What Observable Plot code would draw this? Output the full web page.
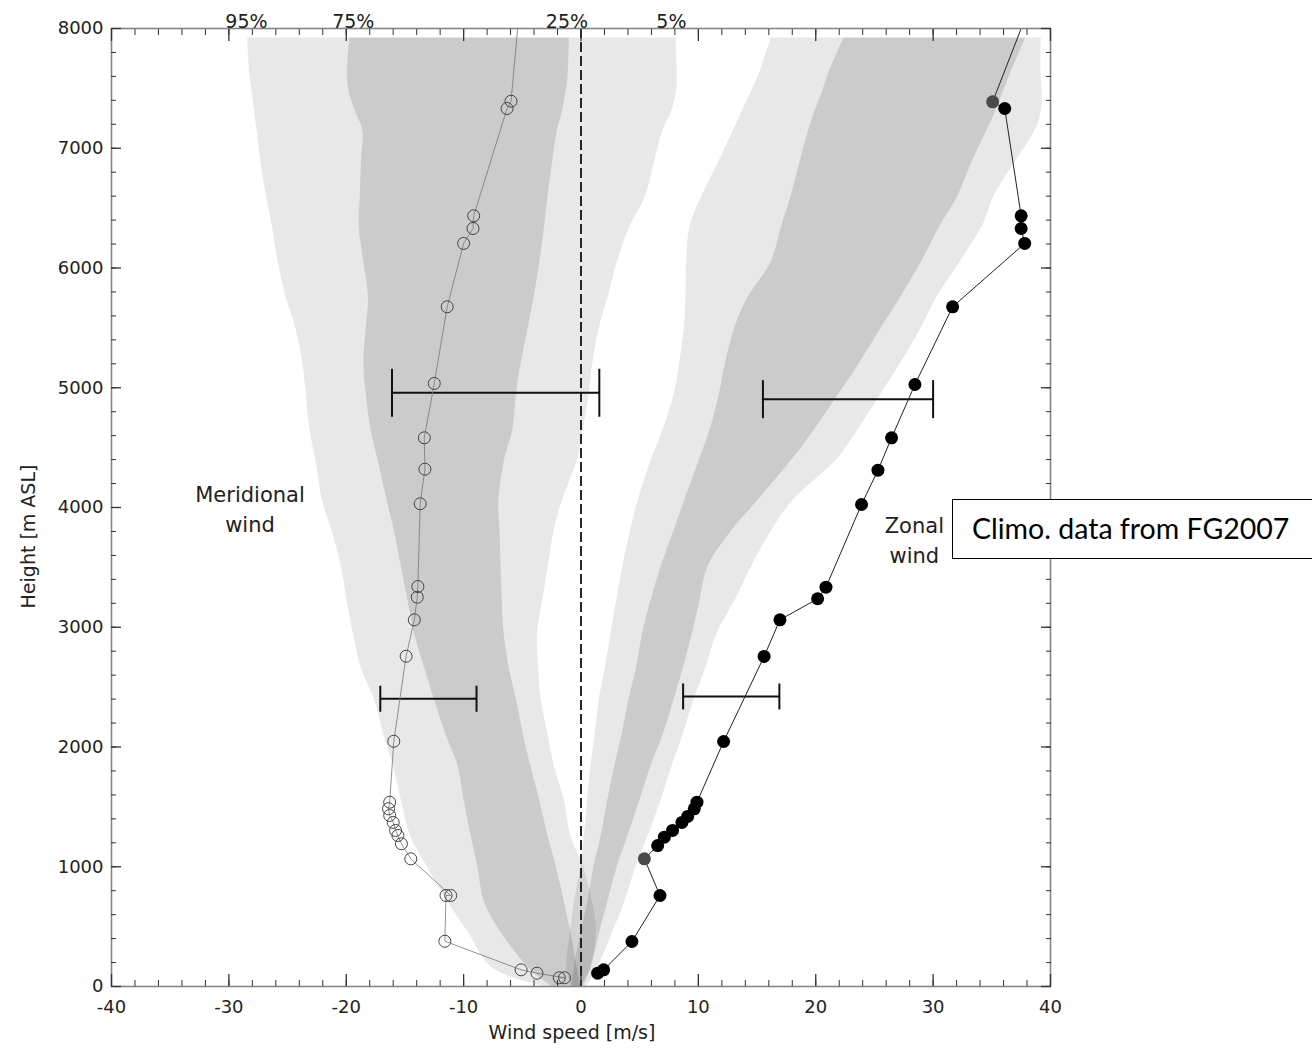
<!DOCTYPE html>
<html>
<head>
<meta charset="utf-8">
<script src="https://cdn.jsdelivr.net/npm/d3@7"></script>
<script src="https://cdn.jsdelivr.net/npm/@observablehq/plot@0.6"></script>
<style>
  html, body { margin: 0; padding: 0; background: #fff; }
  #wrap { position: relative; width: 1312px; height: 1051px; overflow: hidden; }
  #box {
    position: absolute; left: 952px; top: 499px; width: 362px; height: 60px;
    box-sizing: border-box; border: 1.5px solid #000; background: #fff;
    font-family: Lato, "Open Sans", sans-serif; font-size: 28.5px; line-height: 56px;
    padding-left: 19px; white-space: nowrap; color: #000;
  }
</style>
</head>
<body>
<div id="wrap"><div id="box">Climo. data from FG2007</div></div>
<script>
// ---------- Climatology bands (FG2007), heights in m ASL ----------
const bandH  = [0, 150, 450, 700, 1000, 1250, 1550, 1850, 2100, 2400, 2650, 2950, 3200, 3500, 3800, 4050, 4400, 4650, 4950, 5200, 5500, 5750, 6050, 6350, 6600, 6900, 7150, 7300, 7450, 7600, 7920];
// Meridional wind percentiles
const merP95 = [-3.0, -7.5, -9.6, -11.3, -13.1, -14.5, -15.3, -16.0, -16.8, -17.6, -18.7, -19.4, -19.9, -20.4, -21.2, -22.0, -22.6, -23.1, -23.4, -23.7, -24.3, -25.1, -25.8, -26.3, -26.8, -27.3, -27.6, -27.8, -28.0, -28.2, -28.4];
const merP75 = [-2.5, -4.4, -6.8, -8.2, -8.8, -9.35, -9.96, -10.5, -11.5, -12.5, -13.3, -14.2, -14.7, -15.3, -15.9, -16.5, -17.3, -17.9, -18.3, -18.5, -18.3, -18.1, -18.5, -18.9, -18.8, -18.7, -18.6, -19.2, -19.7, -19.9, -19.7];
const merP25 = [0.0, -0.3, -0.85, -1.4, -2.1, -2.8, -3.5, -4.3, -4.9, -5.5, -6.1, -6.55, -6.7, -6.8, -6.9, -7.0, -6.5, -5.8, -5.5, -5.1, -4.5, -4.0, -3.5, -3.1, -2.8, -2.4, -2.0, -1.6, -1.3, -1.1, -1.0];
const merP5  = [0.0, 0.8, 1.3, 1.0, 0.2, -0.85, -1.4, -2.3, -2.8, -3.4, -3.6, -3.7, -3.3, -2.8, -2.3, -1.6, -0.3, 0.2, 0.7, 1.0, 1.56, 2.3, 3.1, 4.2, 5.5, 6.3, 7.0, 7.7, 8.1, 8.2, 8.1];
// Zonal wind percentiles
const zonP5  = [-0.8, -1.2, -0.9, -0.57, 0.0, 0.28, 0.55, 0.85, 1.2, 1.56, 2.05, 2.56, 3.0, 3.55, 4.2, 4.85, 6.0, 7.0, 7.95, 8.4, 8.8, 8.94, 9.0, 9.3, 10.3, 11.8, 13.0, 13.7, 14.4, 15.1, 16.2];
const zonP25 = [-0.8, -0.57, 0.0, 0.57, 1.1, 1.7, 2.27, 2.9, 3.5, 4.1, 4.7, 5.26, 5.9, 6.8, 7.9, 8.8, 10.1, 11.0, 11.8, 12.3, 13.1, 14.2, 16.2, 17.1, 17.9, 18.7, 19.4, 19.9, 20.5, 21.0, 22.4];
const zonP75 = [0.2, 0.85, 1.6, 2.27, 3.1, 3.98, 5.0, 6.0, 7.0, 7.95, 8.7, 9.5, 10.1, 10.8, 12.8, 15.0, 18.0, 19.9, 22.0, 23.7, 25.6, 27.2, 29.0, 30.6, 32.1, 33.4, 34.6, 35.3, 35.9, 36.5, 37.9];
const zonP95 = [0.5, 1.4, 2.7, 3.7, 4.7, 5.7, 6.8, 7.8, 8.7, 9.65, 10.6, 11.6, 13.0, 14.5, 16.2, 18.0, 21.8, 23.6, 25.6, 27.2, 29.0, 30.3, 32.3, 34.2, 35.2, 37.1, 38.7, 39.2, 39.3, 39.2, 39.2];

// ---------- Sounding: meridional wind (open circles) ----------
const merH = [73, 73, 111, 139, 378, 760, 760, 1066, 1192, 1261, 1303, 1370, 1428, 1484, 1539, 2048, 2758, 3062, 3251, 3340, 4031, 4320, 4582, 5036, 5676, 6205, 6330, 6436, 7332, 7393];
const merV = [-1.85, -1.4, -3.75, -5.1, -11.6, -11.5, -11.1, -14.5, -15.3, -15.6, -15.8, -16.0, -16.3, -16.4, -16.3, -15.95, -14.9, -14.2, -13.95, -13.9, -13.7, -13.3, -13.35, -12.5, -11.4, -10.0, -9.2, -9.14, -6.3, -5.96];
const merTop = {h: 8000, v: -5.4};   // line continues above the last dot

// ---------- Sounding: zonal wind (filled dots) ----------
const zonH = [111, 139, 376, 760, 1066, 1177, 1247, 1303, 1370, 1420, 1484, 1539, 2046, 2756, 3062, 3238, 3335, 4025, 4312, 4582, 5027, 5676, 6205, 6330, 6436, 7332, 7388];
const zonU = [1.42, 1.93, 4.34, 6.73, 5.4, 6.53, 7.1, 7.8, 8.6, 9.09, 9.65, 9.88, 12.15, 15.6, 16.95, 20.16, 20.87, 23.9, 25.3, 26.46, 28.45, 31.66, 37.8, 37.5, 37.5, 36.1, 35.07];
const zonTop = {h: 8000, u: 37.5};
const zonGreyH = [1066, 7388];       // the two lighter dots

// ---------- Error bars ----------
const errH  = [4958, 2403, 4905, 2422];
const errLo = [-16.1, -17.1, 15.5, 8.7];
const errHi = [1.56, -8.9, 30.0, 16.9];

// ---------- Text ----------
const pctLabels = ["95%", "75%", "25%", "5%"];
const pctX = [-28.5, -19.4, -1.2, 7.7];
const xTicks = [-40, -30, -20, -10, 0, 10, 20, 30, 40];
const yTicks = [0, 1000, 2000, 3000, 4000, 5000, 6000, 7000, 8000];

// ---------- build tables ----------
const bands = bandH.map((h, i) => ({h, merP95: merP95[i], merP75: merP75[i], merP25: merP25[i], merP5: merP5[i],
  zonP5: zonP5[i], zonP25: zonP25[i], zonP75: zonP75[i], zonP95: zonP95[i]}));
const merPts = merH.map((h, i) => ({h, v: merV[i]}));
const merLine = [...merPts, merTop];
const zonPts = zonH.map((h, i) => ({h, u: zonU[i]}));
const zonLine = [...zonPts, zonTop];
const errs = errH.map((h, i) => ({h, lo: errLo[i], hi: errHi[i]}));

const mPerPx = 8000 / 958;
const capPx = [24, 13, 19, 13];
const capM = (d, i) => capPx[i] * mPerPx;

const minorX = d3.range(-40, 40.1, 2);
const minorY = d3.range(0, 8000.1, 200);
const axisStroke = "#333";
const blank = () => "";
const plain = d => String(d);

const chart = Plot.plot({
  width: 1312, height: 1051,
  marginLeft: 111, marginRight: 262, marginTop: 28, marginBottom: 65,
  x: {domain: [-40, 40], label: null},
  y: {domain: [0, 8000], label: null},
  style: {fontFamily: "'DejaVu Sans', sans-serif", fontSize: "18px", color: "#222", background: "transparent"},
  marks: [
    // climatology bands
    Plot.areaX(bands, {y: "h", x1: "merP95", x2: "merP5", fill: "#000", fillOpacity: 0.09, curve: "catmull-rom"}),
    Plot.areaX(bands, {y: "h", x1: "merP75", x2: "merP25", fill: "#000", fillOpacity: 0.12, curve: "catmull-rom"}),
    Plot.areaX(bands, {y: "h", x1: "zonP5", x2: "zonP95", fill: "#000", fillOpacity: 0.09, curve: "catmull-rom"}),
    Plot.areaX(bands, {y: "h", x1: "zonP25", x2: "zonP75", fill: "#000", fillOpacity: 0.12, curve: "catmull-rom"}),
    // zero line
    Plot.ruleX([0], {stroke: "#111", strokeWidth: 1.8, strokeDasharray: "10,4"}),
    // error bars
    Plot.link(errs, {x1: "lo", x2: "hi", y1: "h", y2: "h", stroke: "#111", strokeWidth: 2}),
    Plot.link(errs, {x1: "lo", x2: "lo", y1: (d, i) => d.h - capM(d, i), y2: (d, i) => d.h + capM(d, i), stroke: "#111", strokeWidth: 2}),
    Plot.link(errs, {x1: "hi", x2: "hi", y1: (d, i) => d.h - capM(d, i), y2: (d, i) => d.h + capM(d, i), stroke: "#111", strokeWidth: 2}),
    // meridional sounding
    Plot.line(merLine, {x: "v", y: "h", stroke: "#777", strokeWidth: 0.8, clip: true}),
    Plot.dot(merPts, {x: "v", y: "h", r: 6, stroke: "#444", strokeWidth: 1, fill: "none"}),
    // zonal sounding
    Plot.line(zonLine, {x: "u", y: "h", stroke: "#222", strokeWidth: 1, clip: true}),
    Plot.dot(zonPts, {x: "u", y: "h", r: 6.5, stroke: null, fill: d => zonGreyH.includes(d.h) ? "#4a4a4a" : "#000"}),
    // frame
    Plot.frame({stroke: "#858585", strokeWidth: 1.6}),
    // axes (ticks inside)
    Plot.axisX({anchor: "bottom", ticks: xTicks, tickSize: -12, tickPadding: 26, tickFormat: plain, stroke: axisStroke, strokeWidth: 1.3, fill: "#222", label: null}),
    Plot.axisX({anchor: "bottom", ticks: minorX, tickSize: -6, tickFormat: blank, stroke: axisStroke, label: null}),
    Plot.axisX({anchor: "top", ticks: xTicks, tickSize: -12, tickFormat: blank, stroke: axisStroke, strokeWidth: 1.3, label: null}),
    Plot.axisX({anchor: "top", ticks: minorX, tickSize: -6, tickFormat: blank, stroke: axisStroke, label: null}),
    Plot.axisY({anchor: "left", ticks: yTicks, tickSize: -10, tickPadding: 18, tickFormat: plain, stroke: axisStroke, strokeWidth: 1.3, fill: "#222", label: null}),
    Plot.axisY({anchor: "left", ticks: minorY, tickSize: -5, tickFormat: blank, stroke: axisStroke, label: null}),
    Plot.axisY({anchor: "right", ticks: yTicks, tickSize: -10, tickFormat: blank, stroke: axisStroke, strokeWidth: 1.3, label: null}),
    Plot.axisY({anchor: "right", ticks: minorY, tickSize: -5, tickFormat: blank, stroke: axisStroke, label: null}),
    // axis titles
    Plot.text(["Wind speed [m/s]"], {frameAnchor: "bottom", dy: 52, dx: -9, fill: "#222", fontSize: 19}),
    Plot.text(["Height [m ASL]"], {frameAnchor: "left", textAnchor: "middle", rotate: -90, dx: -83, dy: 29, fill: "#222", fontSize: 19}),
    // percentile labels
    Plot.text(pctLabels, {x: pctX, frameAnchor: "top", lineAnchor: "bottom", dy: -1, fill: "#222", fontSize: 19}),
    // series labels
    Plot.text(["Meridional\nwind"], {x: [-28.2], y: [4000], lineHeight: 1.45, fill: "#222", fontSize: 21}),
    Plot.text(["Zonal\nwind"], {x: [28.4], y: [3741], lineHeight: 1.45, fill: "#222", fontSize: 21})
  ]
});
document.getElementById("wrap").prepend(chart);
</script>
</body>
</html>
